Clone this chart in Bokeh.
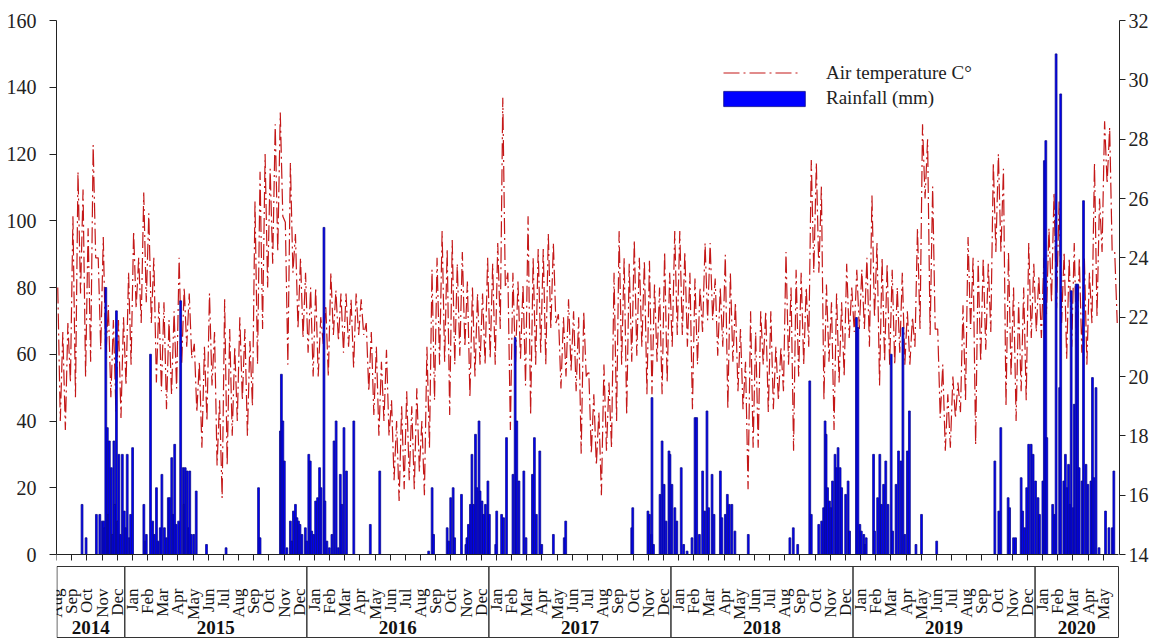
import calendar
from math import pi
from bokeh.plotting import figure
from bokeh.models import Range1d, LinearAxis, FixedTicker, Legend, LegendItem
from bokeh.core.properties import value
from bokeh.embed import file_html
from bokeh.resources import INLINE

# ---------------- data ----------------
START_YEAR, START_MONTH = 2014, 8
N_MONTHS = 70
month_abbr = ["Jan", "Feb", "Mar", "Apr", "May", "Jun",
              "Jul", "Aug", "Sep", "Oct", "Nov", "Dec"]
year_labels = ["2014", "2015", "2016", "2017", "2018", "2019", "2020"]

# daily air temperature (deg C), ~6 readings per month
temp_2014 = [
    23.0, 18.5, 21.5, 18.2, 21.8, 19.8,   # Aug
    25.4, 19.3, 26.9, 22.8, 26.3, 20.0,   # Sep
    25.0, 20.5, 27.8, 24.0, 24.0, 20.9,   # Oct
    24.7, 20.6, 22.4, 19.3, 21.9, 18.8,   # Nov
    21.9, 18.6, 22.0, 19.7, 23.5, 20.4,   # Dec
]
temp_2015 = [
    24.9, 22.3, 24.0, 21.8, 26.2, 22.5,
    25.5, 21.8, 24.0, 19.8, 22.5, 19.5,
    22.5, 18.9, 21.9, 19.4, 22.2, 19.6,
    24.0, 20.4, 23.0, 21.0, 22.8, 20.6,
    21.1, 18.8, 20.5, 17.6, 21.0, 18.5,
    22.8, 19.7, 21.5, 17.0, 19.2, 15.9,
    22.6, 17.0, 21.6, 18.0, 21.0, 18.5,
    22.0, 19.2, 21.6, 18.0, 21.2, 19.0,
    25.9, 20.4, 26.9, 21.6, 27.5, 23.0,
    27.0, 23.8, 28.5, 24.2, 28.9, 25.4,
    25.2, 20.4, 27.2, 23.5, 24.8, 21.6,
    24.0, 21.3, 23.5, 20.8, 23.0, 20.0,
]
temp_2016 = [
    23.0, 20.0, 22.0, 21.1, 22.4, 20.0,
    23.5, 21.4, 22.9, 21.2, 22.8, 20.8,
    22.8, 21.0, 22.6, 20.3, 22.8, 21.4,
    22.6, 21.4, 21.8, 19.5, 21.5, 18.7,
    21.0, 18.0, 20.5, 18.5, 20.9, 18.0,
    19.2, 16.5, 18.5, 15.8, 19.0, 16.2,
    19.5, 16.5, 19.0, 16.2, 19.6, 16.8,
    18.5, 16.0, 21.0, 17.6, 23.6, 19.2,
    24.0, 20.4, 24.9, 20.5, 24.3, 18.7,
    24.6, 20.4, 23.8, 20.7, 24.2, 21.0,
    23.2, 19.3, 23.0, 20.0, 22.8, 20.4,
    22.8, 20.4, 24.0, 20.6, 23.8, 20.4,
]
temp_2017 = [
    24.5, 21.6, 29.4, 23.0, 23.5, 18.2,
    23.5, 20.4, 23.2, 20.6, 23.1, 19.7,
    25.4, 18.7, 24.0, 20.4, 24.3, 20.8,
    24.3, 20.4, 24.8, 21.6, 24.5, 21.8,
    22.1, 19.6, 22.0, 20.0, 22.6, 20.2,
    22.2, 19.5, 22.0, 17.4, 22.2, 20.0,
    20.2, 17.4, 19.4, 17.0, 18.8, 16.0,
    20.4, 17.5, 19.8, 17.6, 23.5, 18.5,
    24.9, 20.4, 24.0, 18.7, 23.8, 20.5,
    24.6, 20.7, 24.0, 21.0, 23.9, 19.4,
    23.9, 19.4, 23.1, 20.5, 23.0, 19.4,
    24.2, 19.8, 23.5, 21.0, 24.9, 21.4,
]
temp_2018 = [
    24.9, 21.4, 24.2, 21.0, 23.5, 18.9,
    23.3, 20.4, 23.0, 21.5, 24.5, 21.9,
    24.5, 21.9, 23.3, 20.7, 23.0, 21.0,
    24.1, 18.9, 23.5, 20.5, 22.5, 19.5,
    21.6, 18.9, 20.5, 16.2, 22.2, 17.6,
    21.5, 17.6, 22.2, 20.4, 22.2, 18.8,
    22.2, 18.9, 21.0, 19.2, 21.0, 19.5,
    24.2, 20.4, 23.0, 17.5, 23.6, 20.0,
    23.5, 20.4, 23.0, 21.0, 27.3, 23.5,
    27.2, 23.5, 26.4, 19.2, 23.1, 20.5,
    22.5, 18.2, 22.8, 19.8, 22.5, 20.0,
    23.8, 21.3, 23.0, 21.5, 23.6, 21.6,
]
temp_2019 = [
    23.6, 21.6, 24.0, 21.0, 26.1, 22.0,
    24.5, 19.7, 24.0, 20.5, 23.8, 20.4,
    23.6, 20.4, 23.0, 20.8, 23.5, 20.4,
    22.2, 20.4, 22.0, 21.0, 25.0, 21.6,
    28.5, 26.0, 28.0, 21.4, 26.4, 21.6,
    21.6, 18.6, 20.4, 17.5, 19.4, 17.6,
    20.0, 18.6, 19.8, 18.8, 22.4, 19.2,
    24.7, 21.6, 24.0, 17.7, 23.9, 20.5,
    24.0, 20.9, 23.8, 21.5, 27.2, 24.2,
    27.5, 24.2, 27.0, 19.0, 24.2, 20.0,
    23.0, 18.5, 22.5, 19.5, 23.0, 19.2,
    24.5, 21.3, 23.8, 21.5, 23.4, 21.3,
]
temp_2020 = [
    24.0, 22.1, 25.0, 22.5, 26.2, 22.3,
    25.9, 21.8, 24.2, 20.6, 24.0, 21.0,
    24.5, 20.6, 24.0, 20.8, 24.0, 20.4,
    23.5, 21.8, 27.2, 22.0, 26.0, 24.2,
    28.6, 26.5, 28.4, 24.2, 24.2, 21.8,
]

# daily rainfall (mm)
rain_2014_dates = ["2014-09-21", "2014-09-29", "2014-10-20", "2014-10-27", "2014-11-01",
                   "2014-11-04", "2014-11-06", "2014-11-08", "2014-11-11", "2014-11-13",
                   "2014-11-15", "2014-11-19", "2014-11-21", "2014-11-24", "2014-11-26",
                   "2014-11-29", "2014-12-01", "2014-12-04", "2014-12-07", "2014-12-11",
                   "2014-12-15", "2014-12-18", "2014-12-21", "2014-12-25", "2014-12-28"]
rain_2014_mm = [15, 5, 12, 12, 10, 10, 8, 80, 38, 12, 34, 26, 6, 34, 15, 73, 10, 30, 6, 30,
                13, 8, 30, 5, 12]

rain_2015_dates = ["2015-01-01", "2015-01-24", "2015-01-27", "2015-01-29", "2015-02-06",
                   "2015-02-10", "2015-02-13", "2015-02-17", "2015-02-20", "2015-02-24",
                   "2015-02-27", "2015-03-04", "2015-03-08", "2015-03-12", "2015-03-15",
                   "2015-03-19", "2015-03-22", "2015-03-25", "2015-03-28", "2015-04-02",
                   "2015-04-06", "2015-04-11", "2015-04-13", "2015-04-15", "2015-04-19",
                   "2015-04-22", "2015-04-24", "2015-04-27", "2015-05-02", "2015-05-07",
                   "2015-05-28", "2015-07-06", "2015-09-10", "2015-09-13", "2015-10-24",
                   "2015-10-26", "2015-10-29", "2015-11-01", "2015-11-06", "2015-11-13",
                   "2015-11-16", "2015-11-19", "2015-11-23", "2015-11-26", "2015-11-29",
                   "2015-12-02", "2015-12-06", "2015-12-13", "2015-12-16", "2015-12-20",
                   "2015-12-23", "2015-12-26", "2015-12-30"]
rain_2015_mm = [32, 15, 4, 6, 60, 10, 6, 20, 4, 8, 24, 8, 5, 17, 17, 29, 12, 33, 9, 10,
                76, 26, 15, 26, 25, 8, 25, 6, 6, 19, 3, 2, 20, 5, 37, 54, 40, 28, 2, 10,
                4, 13, 15, 11, 10, 9, 6, 8, 4, 30, 28, 7, 6]

rain_2016_dates = ["2016-01-03", "2016-01-07", "2016-01-11", "2016-01-14", "2016-01-20",
                   "2016-01-22", "2016-01-26", "2016-01-31", "2016-02-05", "2016-02-09",
                   "2016-02-13", "2016-02-17", "2016-02-21", "2016-02-24", "2016-02-28",
                   "2016-03-04", "2016-03-19", "2016-04-21", "2016-05-10", "2016-08-17",
                   "2016-08-24", "2016-08-27", "2016-09-23", "2016-09-26", "2016-09-30",
                   "2016-10-05", "2016-10-08", "2016-10-22", "2016-10-31", "2016-11-02",
                   "2016-11-05", "2016-11-09", "2016-11-12", "2016-11-15", "2016-11-19",
                   "2016-11-22", "2016-11-26", "2016-11-28", "2016-12-02", "2016-12-05",
                   "2016-12-09", "2016-12-14", "2016-12-17", "2016-12-30"]
rain_2016_mm = [16, 17, 26, 20, 98, 16, 4, 2, 6, 34, 40, 2, 24, 15, 38, 25, 40, 9, 25, 1,
                20, 6, 8, 4, 17, 20, 5, 18, 3, 5, 9, 15, 30, 15, 36, 20, 40, 19, 16, 12,
                15, 22, 12, 3]

rain_2017_dates = ["2017-01-01", "2017-01-11", "2017-01-15", "2017-01-21", "2017-02-03",
                   "2017-02-07", "2017-02-10", "2017-02-14", "2017-02-23", "2017-02-27",
                   "2017-03-12", "2017-03-16", "2017-03-20", "2017-03-27", "2017-03-31",
                   "2017-04-23", "2017-05-15", "2017-05-18", "2017-09-28", "2017-09-30",
                   "2017-10-31", "2017-11-03", "2017-11-07", "2017-11-08", "2017-11-11",
                   "2017-11-24", "2017-11-28", "2017-12-02", "2017-12-06", "2017-12-12",
                   "2017-12-14", "2017-12-18", "2017-12-24", "2017-12-28"]
rain_2017_mm = [13, 12, 11, 35, 24, 65, 40, 22, 25, 5, 24, 35, 12, 31, 3, 6, 5, 10, 8, 14,
                13, 12, 6, 47, 3, 18, 34, 21, 10, 31, 30, 21, 14, 10]

rain_2018_dates = ["2018-01-06", "2018-01-11", "2018-01-18", "2018-01-28", "2018-02-03",
                   "2018-02-06", "2018-02-11", "2018-02-17", "2018-02-21", "2018-02-25",
                   "2018-02-28", "2018-03-07", "2018-03-11", "2018-03-24", "2018-03-27",
                   "2018-04-03", "2018-04-07", "2018-04-11", "2018-04-16", "2018-04-22",
                   "2018-05-19", "2018-08-11", "2018-08-18", "2018-08-27", "2018-09-20",
                   "2018-09-23", "2018-10-08", "2018-10-14", "2018-10-18", "2018-10-21",
                   "2018-10-23", "2018-10-26", "2018-10-30", "2018-11-02", "2018-11-05",
                   "2018-11-10", "2018-11-13", "2018-11-16", "2018-11-20", "2018-11-23",
                   "2018-12-01", "2018-12-06", "2018-12-09", "2018-12-23", "2018-12-26",
                   "2018-12-30"]
rain_2018_mm = [26, 3, 1, 5, 41, 41, 6, 25, 13, 43, 14, 24, 12, 25, 11, 12, 18, 15, 15, 7,
                6, 5, 8, 3, 52, 12, 9, 10, 14, 40, 36, 20, 16, 14, 22, 30, 26, 32, 26, 20,
                18, 22, 7, 71, 68, 9]

rain_2019_dates = ["2019-01-02", "2019-01-07", "2019-01-10", "2019-01-12", "2019-01-27",
                   "2019-01-29", "2019-02-04", "2019-02-08", "2019-02-11", "2019-02-15",
                   "2019-02-19", "2019-02-23", "2019-03-01", "2019-03-04", "2019-03-11",
                   "2019-03-16", "2019-03-21", "2019-03-25", "2019-03-29", "2019-04-03",
                   "2019-04-07", "2019-04-20", "2019-05-01", "2019-06-01", "2019-09-26",
                   "2019-10-04", "2019-10-08", "2019-10-23", "2019-10-26", "2019-11-03",
                   "2019-11-07", "2019-11-18", "2019-11-21", "2019-11-25", "2019-11-29",
                   "2019-12-03", "2019-12-08", "2019-12-12", "2019-12-17", "2019-12-22",
                   "2019-12-25"]
rain_2019_mm = [7, 6, 3, 5, 30, 7, 17, 30, 15, 21, 28, 15, 60, 7, 21, 31, 28, 68, 6, 31,
                43, 3, 12, 4, 28, 13, 38, 17, 14, 5, 5, 23, 13, 8, 20, 33, 33, 30, 22, 17,
                12]

rain_2020_dates = ["2020-01-01", "2020-01-04", "2020-01-07", "2020-01-09", "2020-01-21",
                   "2020-01-25", "2020-01-28", "2020-02-04", "2020-02-06", "2020-02-12",
                   "2020-02-15", "2020-02-18", "2020-02-21", "2020-02-24", "2020-02-26",
                   "2020-03-01", "2020-03-03", "2020-03-07", "2020-03-10", "2020-03-13",
                   "2020-03-19", "2020-03-22", "2020-03-27", "2020-03-31", "2020-04-06",
                   "2020-04-09", "2020-04-12", "2020-04-16", "2020-04-22", "2020-05-05",
                   "2020-05-12", "2020-05-19", "2020-05-22"]
rain_2020_mm = [22, 118, 124, 35, 15, 12, 150, 50, 138, 22, 30, 20, 27, 15, 79, 14, 45, 81,
                81, 26, 22, 106, 27, 21, 22, 53, 23, 50, 2, 13, 8, 8, 25]

# ---------------- derived positions (months since Aug 2014) ----------------
def month_index(y, m):
    return (y - START_YEAR) * 12 + (m - START_MONTH)

def date_pos(s):
    y, m, d = map(int, s.split("-"))
    nd = calendar.monthrange(y, m)[1]
    return month_index(y, m) + (d - 0.5) / nd

temp_vals = temp_2014 + temp_2015 + temp_2016 + temp_2017 + temp_2018 + temp_2019 + temp_2020
PER_MONTH = 6
temp_x = [i // PER_MONTH + (i % PER_MONTH + 0.5) / PER_MONTH for i in range(len(temp_vals))]

rain_dates = (rain_2014_dates + rain_2015_dates + rain_2016_dates + rain_2017_dates +
              rain_2018_dates + rain_2019_dates + rain_2020_dates)
rain_mm = (rain_2014_mm + rain_2015_mm + rain_2016_mm + rain_2017_mm +
           rain_2018_mm + rain_2019_mm + rain_2020_mm)
rain_x = [date_pos(s) for s in rain_dates]

month_ticks = list(range(N_MONTHS))
month_names = {i: month_abbr[(START_MONTH - 1 + i) % 12] for i in month_ticks}

# year boxes
year_first = [max(month_index(int(y), 1), 0) for y in year_labels]
year_left = [f - 0.5 if f > 0 else 0.03 for f in year_first]
year_right = year_left[1:] + [N_MONTHS]
year_center = [(a + b) / 2 for a, b in zip(year_left, year_right)]

# ---------------- layout ----------------
FONT = "Liberation Serif"
W, H = 1158, 638
FRAME_L, FRAME_R, FRAME_T = 56, 1119, 20
PX_X = (1118 - 56) / N_MONTHS    # px per month
PX_RAIN = 534 / 160.0            # px per mm
PX_TEMP = 534 / 18.0             # px per deg C
FRAME_H = H - FRAME_T
x_end = (FRAME_R - FRAME_L) / PX_X
y_start = 160 - FRAME_H / PX_RAIN
t_start = 32 - FRAME_H / PX_TEMP

def px_to_y(py):  # page y -> rain axis units
    return (554 - py) / PX_RAIN

BOX_TOP, BOX_BOTTOM = px_to_y(566), px_to_y(637)
YEAR_Y = px_to_y(627)

p = figure(width=W, height=H, output_backend="svg", toolbar_location=None,
           x_range=Range1d(0, x_end), y_range=Range1d(y_start, 160),
           min_border_left=FRAME_L, min_border_right=W - FRAME_R,
           min_border_top=FRAME_T, min_border_bottom=0)
p.extra_y_ranges = {"temp": Range1d(t_start, 32)}
p.grid.visible = False
p.outline_line_color = None
p.background_fill_color = "white"

AX = "#222222"
xa = p.xaxis[0]
xa.ticker = FixedTicker(ticks=month_ticks)
xa.fixed_location = 0
xa.bounds = (0, N_MONTHS)
xa.major_tick_out = 6
xa.major_tick_in = 0
xa.minor_tick_out = 0
xa.minor_tick_in = 0
xa.major_label_overrides = month_names
xa.major_label_orientation = pi / 2
xa.major_label_standoff = 28
xa.major_label_text_font = FONT
xa.major_label_text_font_size = "17px"
xa.major_label_text_color = "#111111"
xa.axis_line_color = AX
xa.major_tick_line_color = AX

ya = p.yaxis[0]
ya.ticker = FixedTicker(ticks=list(range(0, 161, 20)))
ya.bounds = (0, 160)
ya.major_tick_out = 7
ya.major_tick_in = 0
ya.minor_tick_out = 0
ya.minor_tick_in = 0
ya.major_label_standoff = 13
ya.major_label_text_font = FONT
ya.major_label_text_font_size = "20px"
ya.major_label_text_color = AX
ya.axis_line_color = AX
ya.major_tick_line_color = AX

ra = LinearAxis(y_range_name="temp", bounds=(14, 32),
                ticker=FixedTicker(ticks=list(range(14, 33, 2))))
ra.major_tick_out = 6
ra.major_tick_in = 0
ra.minor_tick_out = 0
ra.minor_tick_in = 0
ra.major_label_standoff = 3
ra.major_label_text_font = FONT
ra.major_label_text_font_size = "20px"
ra.major_label_text_color = AX
ra.axis_line_color = AX
ra.major_tick_line_color = AX
p.add_layout(ra, "right")

line_r = p.line(x=temp_x, y=temp_vals, y_range_name="temp", line_color="#c41818",
                line_width=1.2, line_dash="16 4 2 4")
bar_r = p.vbar(x=rain_x, top=rain_mm, bottom=0, width=0.12, fill_color="#0000ff",
               line_color="#0b0b8c", line_width=0.8)

# year boxes below the month labels
p.quad(left=year_left, right=year_right, top=BOX_TOP, bottom=BOX_BOTTOM,
       fill_color=None, line_color="#333333", line_width=1)
p.text(x=year_center, y=YEAR_Y, text=year_labels, text_font=value(FONT),
       text_font_size="19px", text_font_style="bold", text_align="center",
       text_baseline="middle", text_color="#111111")

# legends
common = dict(padding=0, margin=0, spacing=0, border_line_color=None,
              background_fill_alpha=0, label_text_font=FONT,
              label_text_font_size="19px", label_text_color="#222222",
              glyph_height=19, label_height=19)
leg_t = Legend(items=[LegendItem(label="Air temperature C°", renderers=[line_r])],
               location=(723 - FRAME_L, H - 83.5), glyph_width=78, label_standoff=25, **common)
leg_r = Legend(items=[LegendItem(label="Rainfall (mm)", renderers=[bar_r])],
               location=(713 - FRAME_L, H - 109), glyph_width=102, label_standoff=11, **common)
p.add_layout(leg_t)
p.add_layout(leg_r)

open("out.html", "w").write(file_html(p, INLINE))
